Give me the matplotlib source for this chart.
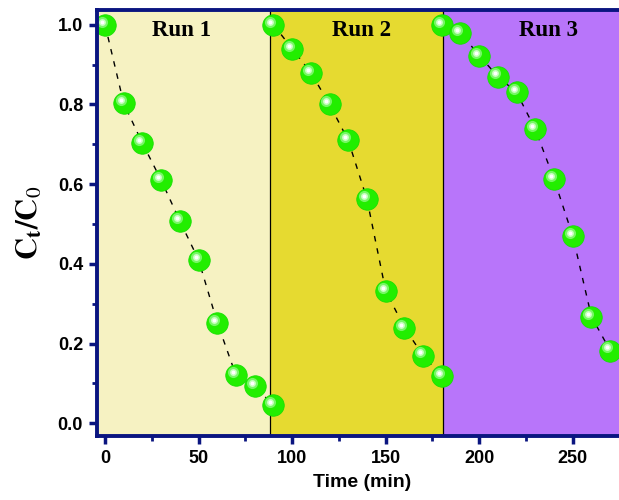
import numpy as np
import matplotlib
matplotlib.use("Agg")
import matplotlib.pyplot as plt
from matplotlib.transforms import offset_copy

# data
run1_t = [0, 10, 20, 30, 40, 50, 60, 70, 80, 90]
run1_c = [1.0, 0.8025, 0.7025, 0.61, 0.5075, 0.41, 0.2525, 0.12, 0.0925, 0.045]
run2_t = [90, 100, 110, 120, 130, 140, 150, 160, 170, 180]
run2_c = [1.0, 0.94, 0.88, 0.80, 0.71, 0.5625, 0.3325, 0.24, 0.17, 0.1175]
run3_t = [180, 190, 200, 210, 220, 230, 240, 250, 260, 270]
run3_c = [1.0, 0.98, 0.9225, 0.87, 0.83, 0.7375, 0.6125, 0.47, 0.2675, 0.1825]

run_names = ["Run 1", "Run 2", "Run 3"]
run_edges = [-10, 88, 180.5, 300]
run_colors = ["#F6F2C2", "#E6DA30", "#B875FA"]
run_label_x = [41, 137, 237]

navy = "#0A1580"

plt.rcParams["mathtext.fontset"] = "stix"

fig = plt.figure(figsize=(6.19, 5.0), dpi=100)
ax = fig.add_axes([97 / 619, 64 / 500, 530 / 619, 426 / 500])

for i in range(3):
    ax.axvspan(run_edges[i], run_edges[i + 1], color=run_colors[i], zorder=0, lw=0)
for e in run_edges[1:3]:
    ax.axvline(e, color="black", lw=0.9, zorder=1)

for t, c in [(run1_t, run1_c), (run2_t, run2_c), (run3_t, run3_c)]:
    ax.plot(t, c, ls=(0, (4, 5)), color="black", lw=1.0, zorder=2)
    ax.plot(t, c, ls="none", marker="o", ms=15.5, mfc="#22EE00",
            mec="#11DD00", mew=0.5, zorder=3)
    hl = offset_copy(ax.transData, fig=fig, x=-2.2, y=2.2, units="points")
    ax.plot(t, c, ls="none", marker="o", ms=8, mfc="#77F766", mec="none",
            transform=hl, zorder=4)
    ax.plot(t, c, ls="none", marker="o", ms=5, mfc="#C8FFC0", mec="none",
            transform=hl, zorder=5)
    ax.plot(t, c, ls="none", marker="o", ms=2.8, mfc="white", mec="none",
            transform=hl, zorder=5)

for name, x in zip(run_names, run_label_x):
    ax.text(x, 0.985, name, ha="center", va="center", fontsize=16.5,
            fontweight="bold", family="Liberation Serif", zorder=6)

ax.set_xlim(-4.3, 279)
ax.set_ylim(-0.032, 1.037)
ax.set_xticks([0, 50, 100, 150, 200, 250])
ax.set_xticks([25, 75, 125, 175, 225, 275], minor=True)
ax.set_yticks([0.0, 0.2, 0.4, 0.6, 0.8, 1.0])
ax.set_yticks([0.1, 0.3, 0.5, 0.7, 0.9], minor=True)
ax.set_yticklabels(["0.0", "0.2", "0.4", "0.6", "0.8", "1.0"])

for s in ax.spines.values():
    s.set_color(navy)
    s.set_linewidth(2.8)
    s.set_zorder(7)
ax.tick_params(which="major", direction="out", length=6, width=2.5,
               color=navy, pad=4)
ax.tick_params(which="minor", direction="out", length=3.5, width=2.0,
               color=navy)
for lab in ax.get_xticklabels() + ax.get_yticklabels():
    lab.set_family("Liberation Sans")
    lab.set_fontweight("bold")
    lab.set_fontsize(13)

ax.set_xlabel("Time (min)", family="Liberation Sans", fontweight="bold",
              fontsize=14, labelpad=5)
ax.set_ylabel(r"$\mathbf{C_t/C}_0$", fontsize=22, labelpad=10)

fig.savefig("out.png", dpi=100)
